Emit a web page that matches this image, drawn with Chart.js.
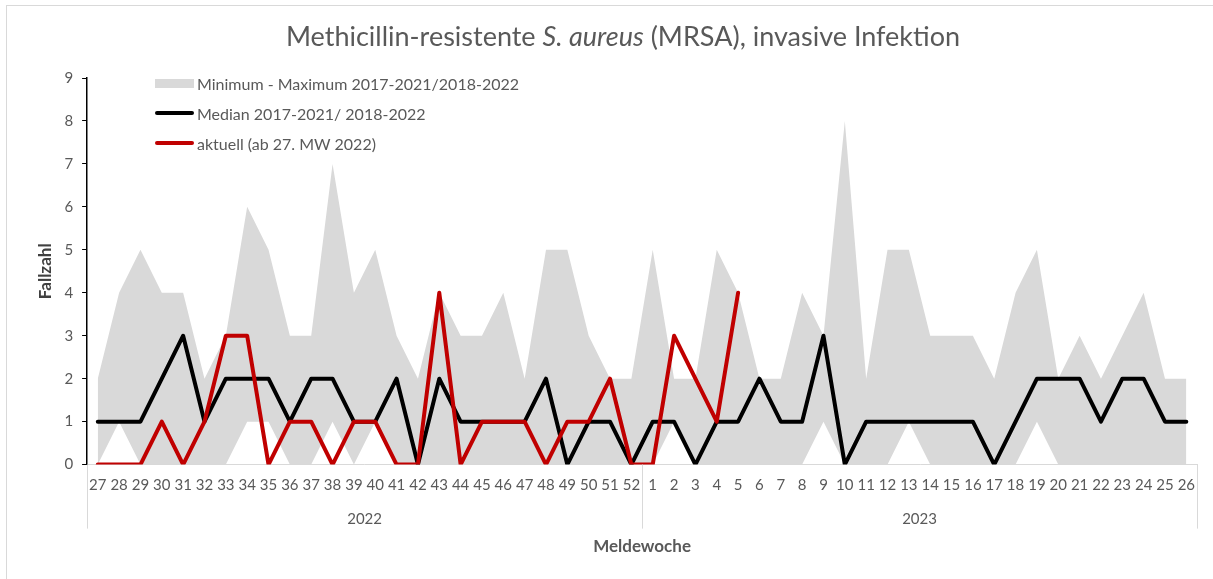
<!DOCTYPE html>
<html>
<head>
<meta charset="utf-8">
<script src="https://cdn.jsdelivr.net/npm/chart.js@4.4.1/dist/chart.umd.min.js"></script>
<style>
  body { margin: 0; background: #fff; }
  #wrap { position: relative; width: 1213px; height: 579px; overflow: hidden; font-family: Lato, "Open Sans", sans-serif; }
  #frame { position: absolute; left: 6px; top: 5px; width: 1230px; height: 600px; border: 1px solid #d9d9d9; box-sizing: border-box; }
  #title { position: absolute; left: 0; width: 1246px; top: 19px; text-align: center; font-size: 27px; color: #595959; }
  #legend { position: absolute; left: 155px; top: 68px; font-size: 16px; color: #595959; }
  .item { height: 30px; display: flex; align-items: center; }
  .sym { width: 39px; margin-right: 3px; }
</style>
</head>
<body>
<div id="wrap">
  <div id="frame"></div>
  <canvas id="chart"></canvas>
  <div id="title">Methicillin-resistente <i>S. aureus</i> (MRSA), invasive Infektion</div>
  <div id="legend"></div>
</div>
<script>
// Meldewochen 27/2022 bis 26/2023
var weeks = ['27','28','29','30','31','32','33','34','35','36','37','38','39','40','41','42','43','44','45','46','47','48','49','50','51','52',
             '1','2','3','4','5','6','7','8','9','10','11','12','13','14','15','16','17','18','19','20','21','22','23','24','25','26'];
var years = ['2022', '2023'];

// Minimum / Maximum der Vorjahre
var maxVals = [2,4,5,4,4,2,3,6,5,3,3,7,4,5,3,2,4,3,3,4,2,5,5,3,2,2,
               5,2,2,5,4,2,2,4,3,8,2,5,5,3,3,3,2,4,5,2,3,2,3,4,2,2];
var minVals = [0,1,0,0,0,0,0,1,1,0,0,1,0,1,0,0,0,0,0,0,0,0,0,0,0,0,
               0,1,0,0,0,0,0,0,1,0,0,0,1,0,0,0,0,0,1,0,0,0,0,0,0,0];
// Median der Vorjahre
var median = [1,1,1,2,3,1,2,2,2,1,2,2,1,1,2,0,2,1,1,1,1,2,0,1,1,0,
              1,1,0,1,1,2,1,1,3,0,1,1,1,1,1,1,0,1,2,2,2,1,2,2,1,1];
// aktuelle Saison (bis MW 5/2023)
var current = [0,0,0,1,0,1,3,3,0,1,1,0,1,1,0,0,4,0,1,1,1,0,1,1,2,0,
               0,3,2,1,4,null,null,null,null,null,null,null,null,null,null,null,null,null,null,null,null,null,null,null,null,null];

var legendLabels = ['Minimum - Maximum 2017-2021/2018-2022', 'Median 2017-2021/ 2018-2022', 'aktuell (ab 27. MW 2022)'];

var grey = '#595959';
var bandColor = '#d9d9d9';
var font = 'Lato';

// Jahresmitte und Jahresgrenzen auf der zweiten (linearen) Achse
var half = weeks.length / 2;
var yearCenters = [half / 2 - 0.5, half + half / 2 - 0.5];
var yearBounds = [-0.5, half - 0.5, weeks.length - 0.5];

// Trennlinien unter der Achse zwischen den Jahren
var separators = {
  id: 'separators',
  afterDraw: function (chart) {
    var c = chart.ctx, x2 = chart.scales.x2;
    c.save();
    c.strokeStyle = bandColor;
    c.lineWidth = 1;
    yearBounds.forEach(function (v) {
      var px = Math.round(x2.getPixelForValue(v)) + 0.5;
      c.beginPath();
      c.moveTo(px, chart.chartArea.bottom);
      c.lineTo(px, x2.top + 22);
      c.stroke();
    });
    c.restore();
  }
};

var ctx = document.getElementById('chart').getContext('2d');
var chart = new Chart(ctx, {
  type: 'line',
  data: {
    labels: weeks,
    datasets: [
      { label: legendLabels[2], data: current, borderColor: '#c00000', borderWidth: 4, pointRadius: 0, fill: false, order: 1 },
      { label: legendLabels[1], data: median, borderColor: '#000000', borderWidth: 4, pointRadius: 0, fill: false, order: 2 },
      { label: legendLabels[0], data: maxVals, borderWidth: 0, borderColor: 'transparent', backgroundColor: bandColor, pointRadius: 0, fill: '+1', order: 3 },
      { label: 'min', data: minVals, borderWidth: 0, borderColor: 'transparent', pointRadius: 0, fill: false, order: 4 }
    ]
  },
  plugins: [separators],
  options: {
    responsive: true,
    maintainAspectRatio: false,
    animation: false,
    layout: { padding: { left: 35, top: 78, right: 16, bottom: 22 } },
    plugins: { legend: { display: false }, tooltip: { enabled: false } },
    elements: { line: { tension: 0, borderJoinStyle: 'round', borderCapStyle: 'round' } },
    scales: {
      x: {
        type: 'category',
        weight: 1,
        offset: true,
        border: { color: bandColor, width: 1 },
        grid: { drawOnChartArea: false, drawTicks: false },
        ticks: { autoSkip: false, maxRotation: 0, padding: 12, color: grey, font: { family: font, size: 15 } }
      },
      x2: {
        type: 'linear',
        axis: 'x',
        position: 'bottom',
        weight: 2,
        min: -0.5,
        max: weeks.length - 0.5,
        afterBuildTicks: function (scale) {
          scale.ticks = yearCenters.map(function (v) { return { value: v }; });
        },
        border: { display: false },
        grid: { display: false, drawTicks: false },
        ticks: {
          padding: 4,
          color: grey,
          font: { family: font, size: 15 },
          callback: function (v) {
            return v === yearCenters[0] ? years[0] : years[1];
          }
        },
        title: { display: true, text: 'Meldewoche', color: grey, font: { family: font, size: 17, weight: 'bold' }, padding: { top: 4, bottom: 0 } }
      },
      y: {
        min: 0,
        max: 9,
        border: { color: '#000000', width: 1.5 },
        grid: { drawOnChartArea: false, drawTicks: true, tickLength: 5, color: '#000000' },
        ticks: { stepSize: 1, padding: 9, color: grey, font: { family: font, size: 15 } },
        title: { display: true, text: 'Fallzahl', color: '#404040', font: { family: font, size: 17, weight: 'bold' }, padding: { top: 0, bottom: 0 } }
      }
    }
  }
});

// Legende aus den Datensaetzen aufbauen
var legendEl = document.getElementById('legend');
[2, 1, 0].forEach(function (i) {
  var ds = chart.data.datasets[i];
  var row = document.createElement('div');
  row.className = 'item';
  var sym = document.createElement('div');
  sym.className = 'sym';
  if (ds.fill) {
    sym.style.height = '9px';
    sym.style.background = ds.backgroundColor;
  } else {
    sym.style.height = '4px';
    sym.style.borderRadius = '2px';
    sym.style.background = ds.borderColor;
  }
  var txt = document.createElement('span');
  txt.textContent = ds.label;
  row.appendChild(sym);
  row.appendChild(txt);
  legendEl.appendChild(row);
});
</script>
</body>
</html>
